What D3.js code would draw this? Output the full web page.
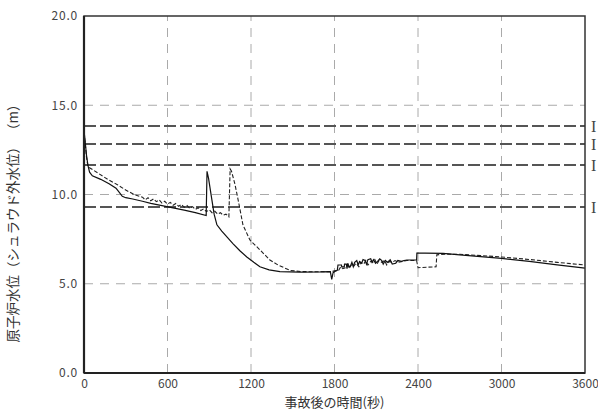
<!DOCTYPE html>
<html><head><meta charset="utf-8">
<script src="https://cdn.jsdelivr.net/npm/d3@7"></script>
<style>body{margin:0;background:#fff;} text{font-family:"Noto Sans CJK JP","Noto Sans",sans-serif;}</style>
</head><body><svg id="c" width="598" height="414"></svg>
<script>
const xTicks = [0, 600, 1200, 1800, 2400, 3000, 3600];
const yTicks = [0, 5, 10, 15, 20];
const thresholdLevels = [13.84, 12.83, 11.65, 9.3];
const thresholdLabels = ["I", "I", "I", "I"];
const xTitle = "事故後の時間(秒)";
const yTitle = "原子炉水位（シュラウド外水位） （m）";

const solidSeries = [
 [0,13.6],[8,13.0],[18,12.2],[28,11.65],[40,11.25],[60,11.05],[120,10.85],[180,10.6],[230,10.35],[255,10.1],[275,9.9],[300,9.82],
 [350,9.75],[420,9.62],[480,9.5],[560,9.38],[640,9.25],[720,9.12],[800,8.98],[878,8.82],[884,11.3],[895,10.9],[915,9.9],[935,8.9],
 [955,8.3],[990,7.95],[1030,7.6],[1070,7.25],[1120,6.85],[1170,6.5],[1220,6.2],[1264,5.95],[1330,5.78],[1408,5.68],[1550,5.65],
 [1700,5.66],[1770,5.68],[1780,5.25],[1790,5.62],[1805,5.7],[1820,5.75],[1825,6.05],[1850,6.05],[1852,5.95],[1870,5.95],[1872,6.1],
 [1885,6.1],[1890,5.85],[1895,6.15],[1905,5.95],[1915,6.0],[1925,6.2],[1935,5.95],[1945,6.2],[1960,6.3],[1970,6.05],[1980,6.25],
 [1995,6.15],[2005,6.35],[2020,6.3],[2030,6.1],[2040,6.35],[2060,6.4],[2070,6.2],[2080,6.35],[2095,6.15],[2110,6.25],[2125,6.4],
 [2140,6.3],[2150,6.1],[2165,6.3],[2180,6.2],[2200,6.35],[2215,6.1],[2240,6.15],[2255,6.3],[2280,6.25],[2300,6.3],[2320,6.33],
 [2390,6.33],[2392,6.72],[2450,6.72],[2580,6.7],[2700,6.62],[2850,6.52],[3000,6.42],[3200,6.25],[3400,6.06],[3600,5.88]
];
const dashedSeries = [
 [0,13.5],[8,12.9],[18,12.1],[28,11.6],[40,11.5],[100,11.2],[170,10.85],[240,10.55],[300,10.25],[360,10.0],[420,9.85],[440,9.7],
 [460,9.82],[480,9.65],[500,9.76],[520,9.6],[540,9.7],[560,9.52],[580,9.62],[600,9.46],[620,9.56],[640,9.4],[660,9.5],[680,9.34],
 [700,9.44],[720,9.28],[740,9.38],[760,9.22],[780,9.32],[800,9.16],[820,9.26],[840,9.1],[860,9.2],[880,9.04],[900,9.14],[920,8.98],
 [940,9.06],[960,8.9],[980,8.98],[1000,8.84],[1020,8.9],[1041,8.75],[1050,11.43],[1060,11.3],[1084,10.6],[1105,9.8],[1120,9.2],
 [1142,8.3],[1192,7.45],[1264,6.9],[1336,6.33],[1394,6.05],[1480,5.75],[1560,5.68],[1700,5.67],[1780,5.68],[1800,5.72],[1830,5.75],
 [1845,5.95],[1860,5.85],[1880,5.9],[1895,6.05],[1905,5.85],[1925,6.1],[1940,6.0],[1955,6.15],[1975,5.95],[1990,6.2],[2010,6.1],
 [2025,6.3],[2040,6.05],[2060,6.25],[2075,6.2],[2090,6.35],[2105,6.1],[2120,6.3],[2140,6.2],[2160,6.3],[2175,6.05],[2195,6.25],
 [2215,6.2],[2235,6.3],[2260,6.2],[2290,6.25],[2320,6.3],[2390,6.3],[2400,5.9],[2530,5.95],[2535,6.62],[2600,6.66],[2700,6.65],
 [2850,6.58],[3000,6.5],[3200,6.36],[3400,6.2],[3600,6.05]
];

const W = 598, H = 414;
const m = {l:84, r:13, t:16, b:41};
const svg = d3.select("#c");
const x = d3.scaleLinear().domain([0,3600]).range([m.l, W-m.r]);
const y = d3.scaleLinear().domain([0,20]).range([H-m.b, m.t]);

// grid
const g = svg.append("g");
g.selectAll(".vg").data(xTicks.slice(1,-1)).join("line")
 .attr("x1",d=>x(d)).attr("x2",d=>x(d)).attr("y1",y(0)).attr("y2",y(20))
 .attr("stroke","#aaa").attr("stroke-width",1).attr("stroke-dasharray","9,7");
g.selectAll(".hg").data(yTicks.slice(1,-1)).join("line")
 .attr("x1",x(0)).attr("x2",x(3600)).attr("y1",d=>y(d)).attr("y2",d=>y(d))
 .attr("stroke","#aaa").attr("stroke-width",1).attr("stroke-dasharray","9,7");

// thresholds
svg.selectAll(".th").data(thresholdLevels).join("line")
 .attr("x1",x(0)).attr("x2",x(3600)).attr("y1",d=>y(d)).attr("y2",d=>y(d))
 .attr("stroke","#555").attr("stroke-width",2).attr("stroke-dasharray","12,4");
svg.selectAll(".thl").data(thresholdLevels).join("text")
 .attr("x",x(3600)+6).attr("y",d=>y(d)+6)
 .style("font-family","'Liberation Serif',serif")
 .attr("font-size",16).attr("fill","#444").text((d,i)=>thresholdLabels[i]);

// lines
const line = d3.line().x(d=>x(d[0])).y(d=>y(d[1]));
svg.append("path").datum(dashedSeries).attr("d",line).attr("fill","none")
 .attr("stroke","#222").attr("stroke-width",1.1).attr("stroke-dasharray","4,2");
svg.append("path").datum(solidSeries).attr("d",line).attr("fill","none")
 .attr("stroke","#111").attr("stroke-width",1.2);

// frame
svg.append("rect").attr("x",x(0)).attr("y",y(20)).attr("width",x(3600)-x(0)).attr("height",y(0)-y(20))
 .attr("fill","none").attr("stroke","#333").attr("stroke-width",1.5);
svg.append("line").attr("x1",x(0)).attr("x2",x(0)).attr("y1",y(20)).attr("y2",y(0)).attr("stroke","#222").attr("stroke-width",2.2);
svg.append("line").attr("x1",x(0)).attr("x2",x(3600)).attr("y1",y(0)).attr("y2",y(0)).attr("stroke","#222").attr("stroke-width",2.2);

// axes
const xa = svg.append("g").attr("transform",`translate(0,${y(0)})`)
 .call(d3.axisBottom(x).tickValues(xTicks).tickSize(0).tickPadding(6).tickFormat(d3.format("d")));
const ya = svg.append("g").attr("transform",`translate(${x(0)},0)`)
 .call(d3.axisLeft(y).tickValues(yTicks).tickSize(0).tickPadding(6).tickFormat(d3.format(".1f")));
[xa,ya].forEach(a=>{a.select(".domain").remove();
 a.selectAll("text").attr("font-size",12).attr("fill","#444").style("font-family","'Noto Sans CJK JP',sans-serif");});
ya.selectAll("text").attr("letter-spacing","0.8px");

svg.append("text").attr("x",(x(0)+x(3600))/2).attr("y",407).attr("text-anchor","middle")
 .attr("font-size",13).attr("fill","#333").text(xTitle);
svg.append("text").attr("transform",`translate(18,220) rotate(-90)`).attr("text-anchor","middle")
 .attr("font-size",13.5).attr("fill","#333").text(yTitle);
</script></body></html>
